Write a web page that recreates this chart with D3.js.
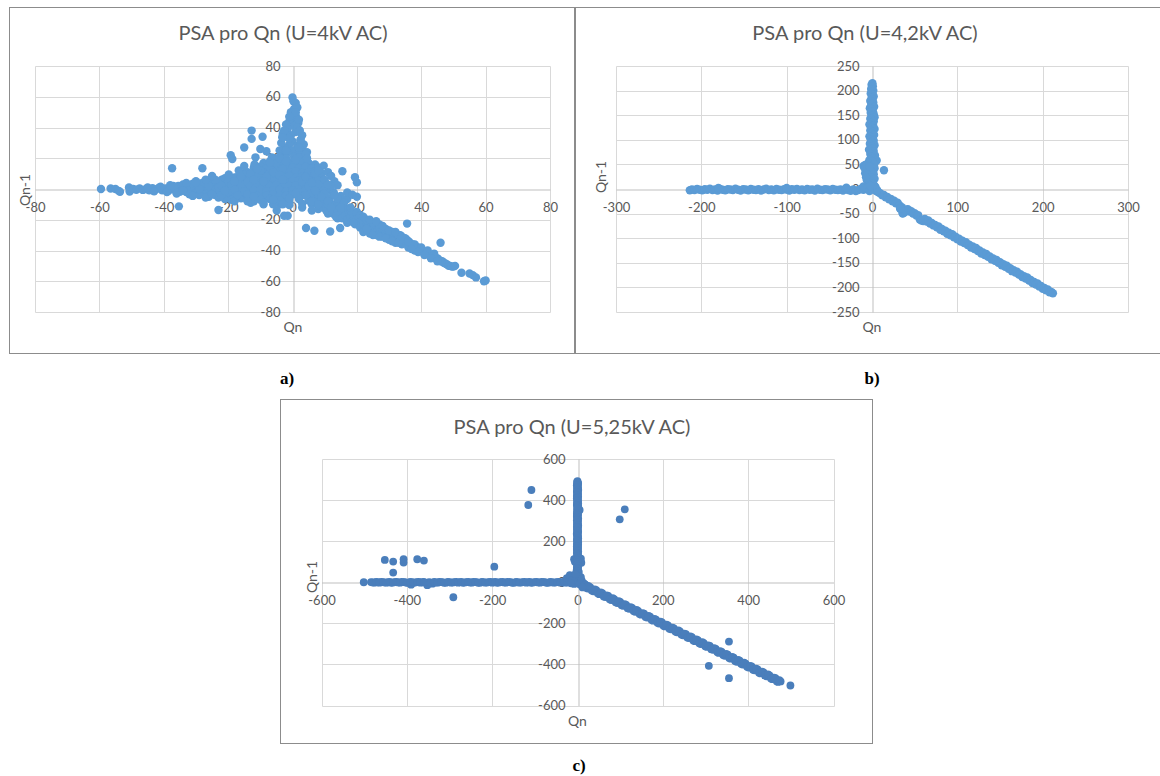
<!DOCTYPE html>
<html>
<head>
<meta charset="utf-8">
<script src="https://cdn.jsdelivr.net/npm/d3@7"></script>
<style>
  body { margin: 0; background: #fff; }
  svg { display: block; }
</style>
</head>
<body>
<svg id="fig" width="1160" height="776"></svg>
<script>
// ---------- U = 4 kV AC : return map Qn vs Qn-1 ----------
const aXTicks = [-80, -60, -40, -20, 0, 20, 40, 60, 80];
const aYTicks = [-80, -60, -40, -20, 0, 20, 40, 60, 80];

const aLeftBranch = [
  [-59.5,0],[-56.5,0.3],[-55,0],[-54,-1.2],[-53.6,-1.8],[-50.8,1],[-50.6,-1.6],[-49.5,0],[-48.5,-0.5],
  [-47.5,0.4],[-46.5,-0.6],[-45.5,0],[-44.5,-0.8],[-43.5,0.5],[-42.5,-0.3],[-41.5,0.8],[-40.5,-0.9],
  [-39.5,0.3],[-38.5,-1.2],[-37.5,1],[-36.5,-0.5],[-35.5,2],[-35,-1.8],[-34,0.5],[-33,-2],[-32.5,2.5],
  [-31.5,-0.5],[-30.5,1.5],[-30,-2.5],[-29,3.5],[-28.5,-1],[-27.5,1.5],[-27,-3],[-26.5,4.5],[-26,0],
  [-25,-2],[-24.5,2.5],[-24,-4],[-23.5,0.5],[-23,3.5],[-22.5,-1.5],[-22,1],[-21.5,-3.5],[-21,4],
  [-20.5,-1],[-20,2],[-19.5,-5],[-19,0],[-18.5,3],[-18,-3],[-17.5,5.5],[-17,-1],[-16.5,1.5],[-16,-6],
  [-15.5,4],[-15,-2.5],[-14.5,0.5],[-14,6],[-13.5,-4],[-13,2],[-12.5,-1],[-12,4.5],[-11.5,-6],[-11,7],
  [-10.5,0],[-10,-3],[-9.5,3],[-9,-7],[-8.5,5],[-8,-1.5],[-7.5,1.5],[-7,-5],[-6.5,6],[-6,-2.5],
  [-5.5,2.5],[-5,-8],[-4.5,4],[-4,-4],[-3.5,1],[-3,-1.5],[-2.5,6],[-2,-6],[-1.5,2],[-1,-3],
  [-45,1],[-43,-1.5],[-41,1.5],[-39,-2],[-37,2],[-36,-3],[-34,3],[-32,-3.5],[-31,3.5],[-29,-4],
  [-28,4],[-26,-5],[-25,5],[-23,-5.5],[-22,6],[-21,-6.5],[-20,5],[-19,-7],[-18,7.5],[-17,-4],
  [-16,3],[-14,-6.5],[-13,8],[-12,-8],[-10,9],[-9,-10],[-8,10],
  [-38,2.5],[-36,-2.5],[-34,-1],[-33,4],[-31,-4.5],[-30,5],[-29,0],[-27,-5.5],[-26,2],[-25,-3.5],
  [-24,6],[-23,1],[-22,-4],[-21,7],[-20,-2],[-19,4.5],[-18,-8],[-17,8],[-16,-2],[-15,10],[-14,1],
  [-13,-9],[-12,11],[-11,-1]
];
const aUpBranch = [
  [0,59.5],[0.3,57],[1,56],[1.5,53],[0.5,52],[-0.5,50],[1,48],[0,46],[-1,44],[1.8,43],[0.5,41],
  [-1.5,39],[2.2,38],[1,37],[-0.5,35],[-2,34],[2.5,32],[0,31],[-1,29],[1.5,28],[-2.5,27],[3,26],
  [0,25],[-1.5,23.5],[2,23],[-3,22],[0.5,21],[4,20],[-2,19],[1.5,18],[-4,17],[3,16],[-0.5,15.5],
  [5,14],[-2.5,14],[1,13],[-5,12],[2.5,11.5],[-1,10.5],[4,10],[-3,9],[6,8.5],[0,8],[-6,7],[2,6],
  [-2,5],[5,4.5],[-4,4],[0.5,3],[3,2],[-1.5,1],[1,0],[7,6],[-7,9],[-8,12],[-4.5,15],[3.5,13.5],[6,11],
  [1,50],[-1,47],[2,45],[-2,42],[1.5,40],[-3,36],[3,35],[-3.5,30],[3.5,29],[-4,25],[4.5,24],[-1,33]
];
const aCore = [
  [-6,20],[-4,21],[-2,20],[2,20.5],[4,19],
  [-9,17],[-7,18],[-5,16.5],[-3,17],[-1,17.5],[1,16.5],[3,17],[5,17],[7,16],
  [-12,14],[-10,14.5],[-8,13.5],[-6,14],[-4,13],[-2,14.5],[0,14],[2,13.5],[4,14.5],[6,13.5],[8,14],
  [-14,11],[-11,11.5],[-9,10.5],[-7,11],[-5,11.5],[-3,10.5],[-1,11],[1,11.5],[3,10.5],[5,11],[7,11.5],[9,10.5],[11,11],
  [-16,8],[-13,8.5],[-11,7.5],[-9,8],[-7,8.5],[-5,7.5],[-3,8],[-1,8.5],[1,7.5],[3,8],[5,8.5],[7,7.5],[9,8],[12,8.5],
  [-20,5],[-17,5.5],[-14,4.5],[-12,5],[-10,5.5],[-8,4.5],[-6,5],[-4,5.5],[-2,4.5],[0,5],[2,5.5],[4,4.5],[6,5],[8,5.5],[10,4.5],[13,5],
  [-22,2],[-19,2.5],[-16,1.5],[-13,2],[-11,2.5],[-9,1.5],[-7,2],[-5,2.5],[-3,1.5],[-1,2],[1,2.5],[3,1.5],[5,2],[7,2.5],[9,1.5],[11,2],[14,2.5],
  [-21,-1],[-18,-0.5],[-15,-1.5],[-12,-1],[-10,-0.5],[-8,-1.5],[-6,-1],[-4,-0.5],[-2,-1.5],[0,-1],[2,-0.5],[4,-1.5],[6,-1],[8,-0.5],[10,-1.5],[12,-1],
  [-17,-4],[-14,-3.5],[-11,-4.5],[-8,-4],[-6,-3.5],[-4,-4.5],[-2,-4],[0,-3.5],[2,-4.5],[4,-4],[6,-3.5],[8,-4.5],[10,-4],[13,-3.5],[15,-4.5],
  [-10,-7],[-7,-6.5],[-4,-7.5],[-1,-7],[2,-6.5],[5,-7.5],[7,-7],[9,-6.5],[11,-7.5],[14,-7],[17,-6.5],
  [-4,-10],[-1,-10.5],[3,-9.5],[6,-10],[9,-10.5],[12,-9.5],[15,-10],
  [8,-13],[11,-13.5],[14,-12.5],[17,-13],
  [11,-16],[14,-16.5],[17,-15.5],[20,-16],[14,-19],[17,-19.5],[20,-18.5],[22,-19],[17,-22],[20,-22.5],[23,-21.5]
];
const aDiagBranch = [
  [2,-2],[3,-4],[4,-1],[5,-6],[5.5,-3],[6,-8],[7,-5],[7.5,-9],[8,-4],[8.5,-11],[9,-7],[9.5,-12],
  [10,-8],[10.5,-14],[11,-10],[11.5,-6],[12,-13],[12.5,-16],[13,-11],[13.5,-18],[14,-14],[14.5,-9],
  [15,-16],[15.5,-19],[16,-13],[16.5,-17],[17,-20],[17.5,-15],[18,-18],[18.5,-21],[19,-17],[19.5,-23],
  [20,-19],[20.5,-22],[21,-25],[21.5,-20],[22,-23],[22.5,-26],[23,-22],[23.5,-24],[24,-27],[24.5,-23],
  [25,-25],[25.5,-28],[26,-24],[26.5,-27],[27,-25],[27.5,-29],[28,-27],[28.5,-26],[29,-29],[29.5,-28],
  [30,-31],[30.5,-29],[31,-30],[31.5,-32],[32,-31],[32.5,-33],[33,-32],[33.5,-30],[34,-34],[34.5,-33],
  [35,-35],[35.5,-33],[36,-36],[36.5,-35],[37,-37],[37.5,-36],[38,-38],[38.5,-39],[39,-38],[39.5,-40],
  [40,-40],[40.5,-41],[41,-41],[41.5,-42],[42,-42],[42.5,-43],[43,-43],[43.5,-44],[44,-44],[44.5,-45],
  [45,-45],[45.5,-46],[46,-47],[46.5,-47],[47,-48],[47.5,-48.5],[48,-49],[48.5,-50],[49,-50],
  [49.5,-50.5],[50,-50.5],[50.5,-50],[52.5,-54.5],[55,-55],[56,-56],[57,-57.5],[59.5,-60],[60,-59.5],
  [22,-28],[24,-29],[26,-30],[28,-31],[30,-33],[32,-35],[34,-36],[36,-38],[38,-40],[23,-20],[25,-22],
  [27,-23],[29,-26],[31,-28],[33,-30],[35,-32],
  [18,-14],[19,-22],[20,-15],[21,-17],[22,-18],[23,-26],[24,-20],[25,-30],[26,-21],[27,-31],[28,-24],
  [29,-32],[30,-27],[31,-34],[32,-28],[33,-35],[34,-31],[36,-34],[38,-36],[40,-38],[42,-40],[44,-42],
  [37,-39],[39,-41],[41,-43],[43,-45],[45,-47]
];
const aScatter = [
  [-37.4,13.5],[-28,13.5],[-35.3,-11.3],[-23,-13.7],[-19.8,9.5],[-19.2,22],[-18.7,19.5],[-16.7,12],
  [-15,27],[-12.7,38],[-12.7,32.6],[-9.3,34],[-11.5,20.6],[-11.8,16],[-10,26],[-8.1,24.6],[-6.4,20.6],
  [-2.6,38],[-3.2,33.7],[2.2,38],[2.5,31.5],[4.2,22.4],[4.5,20],[9.7,15.2],[15.5,11.5],[19.4,7.6],
  [20,4.3],[9.7,1],[12.8,-2.2],[17,-2.2],[18.6,-3.7],[20,-5],[-4.9,-14],[-2.6,-17.4],[-1.5,-17.4],
  [4.2,-25.4],[6.8,-27.2],[11.7,-27.6],[14.8,-25.4],[35.6,-22.5],[46,-35],[-27,6],[-25,8.5],[-30,4],
  [-14,-8],[-6,-10],[-1,-9],[3,-12],[6,-14],[7,10],[8,12],[5,6],[8,3],[10,-3],[6,-2],[-7,14],[-5,17],
  [-3,13],[1,19],[-2,25],[2,27],[-18,5],[-16,8],[-13,10],[-10,12],[-8,8],[-6,11],[-4,9],[-12,6],
  [-9,5],[-3,6],[-15,15],[-11,13],[-7,17],[-4,20],[-2,18],[3,5],[5,2],[7,-1],[9,-5],[4,-4],[6,-8],
  [8,-10],[11,-8],[12,-12],[2,-6],[1,-3],[4,8],[6,4],[10,6],[12,2],[14,-6],[16,-9],[13,-4],[15,-12],
  [18,-12],[11,3],[-12,-5],[-9,-9],[-6,-7],[-3,-10],[-1,-6]
];

// ---------- U = 4,2 kV AC ----------
const bXTicks = [-300, -200, -100, 0, 100, 200, 300];
const bYTicks = [-250, -200, -150, -100, -50, 0, 50, 100, 150, 200, 250];

const bLeftBranch = [
  [-213.5,-2.5],[-211,-1],[-208,-2],[-205,0],[-202,-1.5],[-199,-2.5],[-196,-0.5],[-193,-1.5],[-190,0.5],
  [-187,-2],[-184,-1],[-181,-3],[-178,0],[-175,-1.5],[-172,-2.5],[-169,-0.5],[-166,-1],[-163,-2],
  [-160,0.5],[-157,-1.5],[-154,-3],[-151,-0.5],[-148,-1],[-145,-2.5],[-142,0],[-139,-1.5],[-136,-2],
  [-133,-0.5],[-130,-3],[-127,-1],[-124,0.5],[-121,-2],[-118,-1],[-115,-2.5],[-112,0],[-109,-1.5],
  [-106,-2],[-103,-0.5],[-100,-1],[-97,-3],[-94,-0.5],[-91,-1.5],[-88,0],[-85,-2],[-82,-1],[-79,-2.5],
  [-76,0],[-73,-1.5],[-70,-1],[-67,-3],[-64,0.5],[-61,-1.5],[-58,-2],[-55,-0.5],[-52,-1],[-49,-2.5],
  [-46,0],[-43,-1.5],[-40,-2],[-37,-1],[-34,-3],[-31,0.5],[-28,-2],[-25,-3.5],[-22,-1],[-19,-4],
  [-16,-2],[-13,0],[-10,-1.5],[-7,1],[-4,-0.5],[-30,2.5],[-100,2],[-180,2]
];
const bUpBranch = [
  [0.5,215],[-0.5,212],[1,209],[0,206],[-1,203],[1.5,200],[0,197],[-1.5,194],[1,191],[2,188],
  [-0.5,185],[0.5,182],[-2,179],[1.5,176],[0,173],[-1,170],[2.5,167],[-2.5,164],[0,161],[1,158],
  [-1.5,155],[2,152],[-0.5,149],[3,146],[-2,143],[0.5,140],[2,137],[-1,134],[-3,131],[1.5,128],
  [0,125],[3,122],[-2,119],[1,116],[-0.5,113],[2.5,110],[-3,107],[0.5,104],[-1.5,101],[2,98],[0,95],
  [-2.5,92],[3,89],[-1,86],[1,83],[-3.5,80],[2,77],[0,74],[-2,71],[3.5,68],[-0.5,65],[1.5,62],
  [5.5,58],[-3,59],[0,56],[-4.5,53],[2.5,50],[-8,49],[-10,47],[-1,45],[3,42],[-7,40],[-4,37],
  [0.5,34],[-8,32],[2,30],[-5,27],[-1,24],[3,21],[-6,18],[-2,15],[1,12],[-4,9],[3,6],[-1,3],
  [-6,30],[-7,24],[-9,43],[-3,46]
];
const bDiagBranch = [
  [2,-1],[4,-3],[6,-5],[8,-7],[10,-9],[12,-13],[14,-12],[16,-17],[18,-16],[20,-21],[22,-20],[24,-25],
  [26,-24],[28,-29],[30,-28],[32,-33],[33,-39],[35,-37],[36,-49],[37,-46],[38,-48],[40,-42],[42,-41],
  [44,-46],[46,-45],[48,-50],[50,-49],[52,-54],[54,-53],[56,-62],[58,-64],[60,-65],[60,-62],[62,-61],
  [64,-66],[66,-64],[68,-70],[70,-69],[72,-74],[74,-73],[76,-78],[78,-76],[80,-83],[82,-81],[84,-86],
  [86,-85],[88,-91],[90,-89],[92,-94],[94,-92],[96,-98],[98,-97],[100,-102],[102,-101],[104,-107],
  [106,-105],[108,-110],[110,-108],[112,-114],[114,-113],[116,-119],[118,-117],[120,-122],[122,-120],
  [124,-126],[126,-125],[128,-131],[130,-129],[132,-134],[134,-132],[136,-138],[138,-137],[140,-143],
  [142,-141],[144,-146],[146,-144],[148,-150],[150,-149],[152,-155],[154,-153],[156,-158],[158,-156],
  [160,-162],[162,-161],[164,-167],[166,-165],[168,-170],[170,-168],[172,-174],[174,-173],[176,-179],
  [178,-177],[180,-182],[182,-180],[184,-186],[186,-185],[188,-191],[190,-189],[192,-194],[194,-192],
  [196,-198],[198,-197],[200,-203],[202,-201],[204,-206],[206,-204],[208,-210],[210,-209],[212,-212]
];
const bScatter = [
  [14,38],[36,-50],[33,-40],[-10,5],[-6,2],[4,4],[6,-2],[-3,-4],[2,8],[-2,6]
];

// ---------- U = 5,25 kV AC ----------
const cXTicks = [-600, -400, -200, 0, 200, 400, 600];
const cYTicks = [-600, -400, -200, 0, 200, 400, 600];

const cLeftBranch = [
  [-501,0],[-484,1],[-476,-2],[-468,0],[-460,2],[-452,-1],[-444,0],[-436,-3],[-428,1],[-420,-1],
  [-412,2],[-404,0],[-396,-2],[-390,-12],[-388,1],[-380,-1],[-372,2],[-364,0],[-356,-3],[-352,-14],
  [-348,1],[-340,-7],[-332,-1],[-324,2],[-316,0],[-308,-2],[-300,1],[-292,-1],[-284,2],[-276,0],
  [-268,-3],[-260,1],[-252,-1],[-244,2],[-236,0],[-228,-2],[-220,1],[-212,-1],[-204,2],[-196,0],
  [-188,-3],[-180,1],[-172,-1],[-164,2],[-156,0],[-148,-2],[-140,1],[-132,-1],[-124,2],[-116,0],
  [-108,-3],[-100,1],[-92,-1],[-84,2],[-76,0],[-68,-2],[-60,1],[-52,-1],[-44,2],[-36,0],[-28,-2],
  [-20,1],[-12,-1],[-6,3],
  [-480,-1],[-472,2],[-464,-2],[-456,1],[-448,-2],[-440,2],[-432,-1],[-424,2],[-416,-2],[-408,1],
  [-400,-3],[-392,2],[-384,-2],[-376,1],[-368,-2],[-360,2],[-344,-2],[-336,2],[-328,-2],[-320,1],
  [-312,-3],[-304,2],[-296,-2],[-288,1],[-280,-2],[-272,2],[-264,-1],[-256,2],[-248,-2],[-240,1],
  [-232,-3],[-224,2],[-216,-2],[-208,1],[-200,-2],[-192,2],[-184,-1],[-176,2],[-168,-2],[-160,1],
  [-152,-3],[-144,2],[-136,-2],[-128,1],[-120,-2],[-112,2],[-104,-1],[-96,2],[-88,-2],[-80,1],
  [-72,-3],[-64,2],[-56,-2],[-48,1],[-40,-2],[-32,2],[-24,-1],[-16,2],[-9,-2]
];
const cUpBranch = [
  [0,492],[1,484],[-1,476],[0.5,468],[-0.5,460],[1.5,452],[-1,444],[0,436],[1,428],[-1.5,420],
  [0.5,412],[-0.5,404],[1,396],[0,388],[-1,380],[1.5,372],[0,364],[5,352],[-1,346],[0.5,338],[1,330],
  [-1.5,322],[0,314],[1,306],[-0.5,298],[0.5,290],[-1,282],[1.5,274],[0,266],[-1,258],[1,250],[0,242],
  [-1.5,234],[0.5,226],[1,218],[-0.5,210],[0,202],[1.5,194],[-1,186],[0,178],[1,170],[-1.5,162],
  [0.5,154],[-0.5,146],[1,138],[0,130],[-1,122],[8,115],[-8,112],[5,105],[-6,100],[9,95],[0,90],
  [1.5,82],[-1,74],[0.5,66],[-2,58],[3,50],[-3,42],[1,34],[-4,26],[4,18],[-2,10],[2,4],
  [-1,488],[1.5,480],[-1.5,472],[1,464],[-1,456],[1.5,448],[-1.5,440],[1,432],[-1,424],[1.5,416],
  [-1.5,408],[1,400],[-1,392],[1.5,384],[-1.5,376],[1,368],[-1,358],[1.5,342],[-1.5,334],[1,326],
  [-1,318],[1.5,310],[-1.5,302],[1,294],[-1,286],[1.5,278],[-1.5,270],[1,262],[-1,254],[1.5,246],
  [-1.5,238],[1,230],[-1,222],[1.5,214],[-1.5,206],[1,198],[-1,190],[1.5,182],[-1.5,174],[1,166],
  [-1,158],[1.5,150],[-1.5,142],[1,134],[-1,126],[1.5,118],[-1.5,108],[1,98],[-1,86],[1.5,78],
  [-1.5,70],[1,62],[-1,54],[1.5,46],[-1.5,38],[1,30],[-1,22],[1.5,14],[-1.5,7]
];
const cDiagBranch = [
  [6,-2],[12,-18],[18,-12],[24,-31],[30,-25],[37,-44],[44,-39],[51,-58],[58,-53],[65,-72],[72,-67],
  [79,-87],[86,-82],[93,-101],[100,-96],[107,-115],[114,-110],[121,-129],[128,-125],[135,-144],
  [142,-139],[149,-158],[156,-153],[163,-172],[170,-167],[177,-187],[184,-182],[191,-201],[198,-196],
  [205,-215],[212,-210],[219,-229],[226,-225],[233,-244],[240,-239],[247,-258],[254,-253],[261,-272],
  [268,-267],[275,-287],[282,-282],[289,-301],[296,-296],[303,-315],[310,-310],[317,-329],[324,-325],
  [331,-344],[338,-339],[345,-358],[352,-353],[359,-372],[366,-367],[373,-387],[380,-382],[387,-401],
  [394,-396],[401,-415],[408,-410],[415,-429],[422,-424],[429,-444],[436,-439],[443,-458],[450,-453],
  [457,-472],[464,-467],[470,-485],[476,-483],
  [9,-15],[15,-9],[21,-27],[27,-22],[33.5,-40],[40.5,-35],[47.5,-54],[54.5,-50],[61.5,-69],[68.5,-64],
  [75.5,-83],[82.5,-78],[89.5,-97],[96.5,-92],[103.5,-112],[110.5,-107],[117.5,-126],[124.5,-121],
  [131.5,-140],[138.5,-135],[145.5,-154],[152.5,-150],[159.5,-169],[166.5,-164],[173.5,-183],
  [180.5,-178],[187.5,-197],[194.5,-192],[201.5,-212],[208.5,-207],[215.5,-226],[222.5,-221],
  [229.5,-240],[236.5,-235],[243.5,-254],[250.5,-250],[257.5,-269],[264.5,-264],[271.5,-283],
  [278.5,-278],[285.5,-297],[292.5,-292],[299.5,-311],[306.5,-307],[313.5,-326],[320.5,-321],
  [327.5,-340],[334.5,-335],[341.5,-354],[348.5,-349],[355.5,-369],[362.5,-364],[369.5,-383],
  [376.5,-378],[383.5,-397],[390.5,-392],[397.5,-411],[404.5,-407],[411.5,-426],[418.5,-421],
  [425.5,-440],[432.5,-435],[439.5,-454],[446.5,-449],[453.5,-469],[460.5,-464],[467,-482],[473,-476]
];
const cScatter = [
  [-451.6,108.6],[-432,100.5],[-407.6,111.9],[-407.6,95.7],[-375.6,111.9],[-360,105.4],[-432,47],
  [-195,76],[-291,-73],[-108,449],[-115.4,376],[110.8,355],[99,306.5],[355,-288.6],[307.8,-407],
  [355,-467],[499,-502.7],[-25,20],[-18,35],[-12,10],[-8,-8],[5,-10],[10,8],[15,-5],[18,-12],
  [25,-18],[-15,-5],[8,25],[-5,40],[12,-25]
];

// ---------- layout of the three panels ----------
const panels = [
  {
    title: "PSA pro Qn (U=4kV AC)", caption: "a)",
    points: [...aLeftBranch, ...aUpBranch, ...aCore, ...aDiagBranch, ...aScatter],
    xTicks: aXTicks, yTicks: aYTicks, color: "#5b9bd5", r: 4.2,
    frame: [9.5, 7.5, 565, 346], plot: [35, 550, 66, 312],
    titlePos: [283, 33], yTitlePos: [25.5, 190], xTitlePos: [293, 327], captionPos: [287, 378]
  },
  {
    title: "PSA pro Qn (U=4,2kV AC)", caption: "b)",
    points: [...bLeftBranch, ...bUpBranch, ...bDiagBranch, ...bScatter],
    xTicks: bXTicks, yTicks: bYTicks, color: "#5b9bd5", r: 4.2,
    frame: [575.5, 7.5, 600, 346], plot: [616, 1128, 66, 312],
    titlePos: [865, 33], yTitlePos: [601, 177], xTitlePos: [872, 327], captionPos: [872, 378]
  },
  {
    title: "PSA pro Qn (U=5,25kV AC)", caption: "c)",
    points: [...cLeftBranch, ...cUpBranch, ...cDiagBranch, ...cScatter],
    xTicks: cXTicks, yTicks: cYTicks, color: "#4a7ebb", r: 3.9,
    frame: [280.5, 399.5, 592, 344], plot: [321.5, 833.5, 459, 705.5],
    titlePos: [572, 427], yTitlePos: [312, 577], xTitlePos: [577.5, 721], captionPos: [579, 765]
  }
];

const FONT = "Lato, 'Open Sans', sans-serif";
const TEXT = "#595959";
const GRID = "#d9d9d9";
const AXIS = "#bfbfbf";

const svg = d3.select("#fig");
svg.append("rect").attr("width", 1160).attr("height", 776).attr("fill", "#fff");

function drawPanel(p) {
  const g = svg.append("g");
  const [px0, px1, py0, py1] = p.plot;

  g.append("rect")
    .attr("x", p.frame[0]).attr("y", p.frame[1])
    .attr("width", p.frame[2]).attr("height", p.frame[3])
    .attr("fill", "none").attr("stroke", "#8c8c8c");

  const x = d3.scaleLinear().domain(d3.extent(p.xTicks)).range([px0, px1]);
  const y = d3.scaleLinear().domain(d3.extent(p.yTicks)).range([py1, py0]);
  const snap = v => Math.round(v) + 0.5;

  // gridlines
  g.append("g").selectAll("line")
    .data(p.xTicks.filter(v => v !== 0)).join("line")
    .attr("x1", d => snap(x(d))).attr("x2", d => snap(x(d)))
    .attr("y1", snap(py0)).attr("y2", snap(py1))
    .attr("stroke", GRID);
  g.append("g").selectAll("line")
    .data(p.yTicks.filter(v => v !== 0)).join("line")
    .attr("y1", d => snap(y(d))).attr("y2", d => snap(y(d)))
    .attr("x1", snap(px0)).attr("x2", snap(px1))
    .attr("stroke", GRID);

  // axes crossing at zero
  const xAxis = g.append("g")
    .attr("transform", `translate(0,${snap(y(0))})`)
    .call(d3.axisBottom(x).tickValues(p.xTicks).tickSize(0).tickSizeOuter(0)
      .tickPadding(13).tickFormat(d => String(d)));
  const yAxis = g.append("g")
    .attr("transform", `translate(${snap(x(0))},0)`)
    .call(d3.axisLeft(y).tickValues(p.yTicks).tickSize(0).tickSizeOuter(0)
      .tickPadding(13).tickFormat(d => String(d)));
  [xAxis, yAxis].forEach(a => {
    a.attr("font-family", FONT).attr("font-size", 13);
    a.select(".domain").attr("stroke", AXIS);
    a.selectAll("text").attr("fill", TEXT);
  });

  // titles
  g.append("text")
    .attr("x", p.titlePos[0]).attr("y", p.titlePos[1]).attr("dy", "0.35em")
    .attr("text-anchor", "middle").attr("font-family", FONT).attr("font-size", 20)
    .attr("fill", TEXT).text(p.title);
  g.append("text")
    .attr("transform", `translate(${p.yTitlePos[0]},${p.yTitlePos[1]}) rotate(-90)`)
    .attr("dy", "0.35em").attr("text-anchor", "middle")
    .attr("font-family", FONT).attr("font-size", 14).attr("fill", TEXT).text("Qn-1");
  g.append("text")
    .attr("x", p.xTitlePos[0]).attr("y", p.xTitlePos[1]).attr("dy", "0.35em")
    .attr("text-anchor", "middle").attr("font-family", FONT).attr("font-size", 14)
    .attr("fill", TEXT).text("Qn");

  // markers
  g.append("g").selectAll("circle")
    .data(p.points).join("circle")
    .attr("cx", d => x(d[0])).attr("cy", d => y(d[1]))
    .attr("r", p.r).attr("fill", p.color);

  // caption under the panel
  svg.append("text")
    .attr("x", p.captionPos[0]).attr("y", p.captionPos[1]).attr("dy", "0.35em")
    .attr("text-anchor", "middle").attr("font-family", "'Liberation Serif', 'Times New Roman', serif")
    .attr("font-weight", "bold").attr("font-size", 17).attr("fill", "#000").text(p.caption);
}

panels.forEach(drawPanel);
</script>
</body>
</html>
